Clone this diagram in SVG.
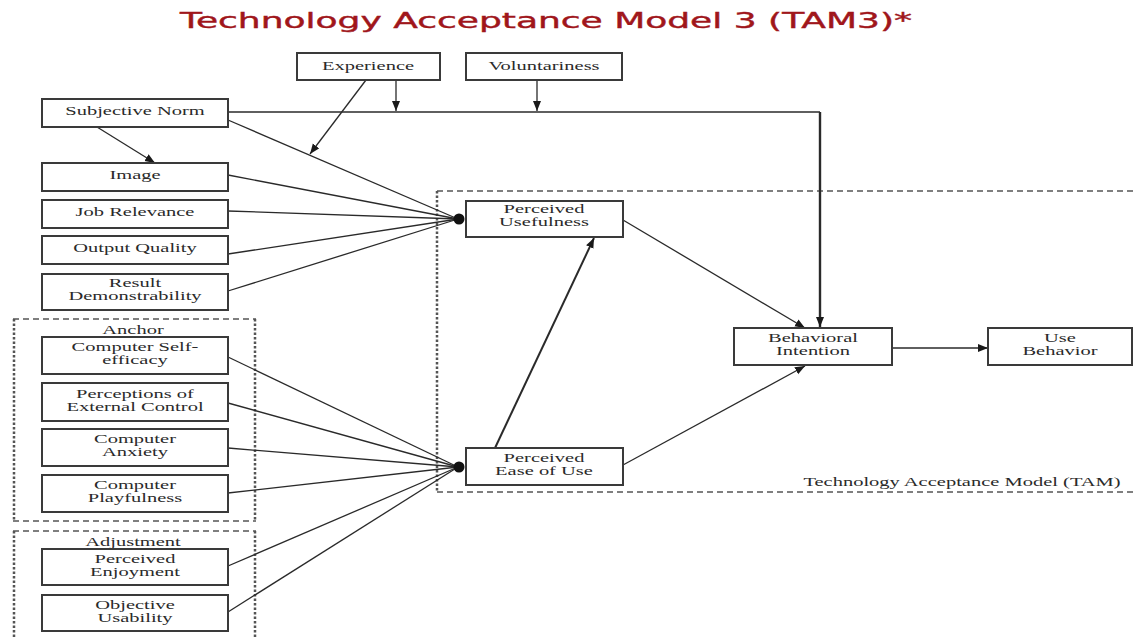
<svg xmlns="http://www.w3.org/2000/svg" width="1136" height="639" viewBox="0 0 1136 639">
<defs>
<marker id="ah" markerUnits="userSpaceOnUse" markerWidth="11" markerHeight="9" refX="10" refY="4" orient="auto">
<path d="M0,0 L10,4 L0,8 z" fill="#1a1a1a"/>
</marker>
<style>
.box{fill:#fff;stroke:#3a3a3a;stroke-width:2}
.t{font-family:"Liberation Serif","Times New Roman",serif;font-size:12.5px;fill:#2a2a2a;text-anchor:middle}
.ln{fill:none;stroke:#2a2a2a;stroke-width:1.3}
.arr{fill:none;stroke:#2a2a2a;stroke-width:1.3;marker-end:url(#ah)}
.dash{fill:none;stroke:#555;stroke-width:1.5;stroke-dasharray:6 4}
.dot{fill:none;stroke:#555;stroke-width:2.5;stroke-dasharray:2.5 2}
</style>
</defs>
<rect width="1136" height="639" fill="#fff"/>
<text x="180" y="28" font-family="DejaVu Sans, Verdana, sans-serif" font-size="21" fill="#A0161B" stroke="#A0161B" stroke-width="0.4" textLength="732" lengthAdjust="spacingAndGlyphs">Technology Acceptance Model 3 (TAM3)*</text>

<g id="groups">
<line class="dash" x1="437" y1="191" x2="1136" y2="191"/>
<line class="dash" x1="437" y1="492" x2="1136" y2="492"/>
<line class="dot" x1="437" y1="191" x2="437" y2="492"/>
<text class="t" transform="translate(962,486) scale(1.64,1)">Technology Acceptance Model (TAM)</text>
<line class="dash" x1="13" y1="319" x2="256" y2="319"/>
<line class="dash" x1="13" y1="521" x2="256" y2="521"/>
<line class="dot" x1="14" y1="319" x2="14" y2="521"/>
<line class="dot" x1="255" y1="319" x2="255" y2="521"/>
<text class="t" transform="translate(133,334) scale(1.64,1)">Anchor</text>
<line class="dash" x1="13" y1="531" x2="256" y2="531"/>
<line class="dot" x1="14" y1="531" x2="14" y2="639"/>
<line class="dot" x1="255" y1="531" x2="255" y2="639"/>
<text class="t" transform="translate(133,546) scale(1.64,1)">Adjustment</text>
</g>

<g id="connectors">
<path class="ln" d="M228,112 H820"/>
<line x1="820" y1="112" x2="820" y2="327" stroke="#2a2a2a" stroke-width="2.4" marker-end="url(#ah)"/>
<line class="arr" x1="396" y1="80" x2="396" y2="111"/>
<line class="arr" x1="537" y1="80" x2="537" y2="111"/>
<line class="arr" x1="366" y1="80" x2="310" y2="154"/>
<line class="arr" x1="97" y1="127" x2="155" y2="163"/>
<line class="ln" x1="228" y1="120" x2="458" y2="219"/>
<line class="ln" x1="228" y1="175" x2="458" y2="219"/>
<line class="ln" x1="228" y1="211" x2="458" y2="219"/>
<line class="ln" x1="228" y1="254" x2="458" y2="219"/>
<line class="ln" x1="228" y1="291" x2="458" y2="219"/>
<line class="ln" x1="228" y1="357" x2="458" y2="467"/>
<line class="ln" x1="228" y1="403" x2="458" y2="467"/>
<line class="ln" x1="228" y1="448" x2="458" y2="467"/>
<line class="ln" x1="228" y1="493" x2="458" y2="467"/>
<line class="ln" x1="228" y1="566" x2="458" y2="467"/>
<line class="ln" x1="228" y1="612" x2="458" y2="467"/>
<circle cx="459" cy="219" r="5.5" fill="#111"/>
<circle cx="459" cy="467" r="5.5" fill="#111"/>
<line x1="495" y1="448" x2="594" y2="238" stroke="#2a2a2a" stroke-width="2" marker-end="url(#ah)"/>
<line class="arr" x1="623" y1="220" x2="805" y2="328"/>
<line class="arr" x1="623" y1="465" x2="805" y2="366"/>
<line class="arr" x1="892" y1="348" x2="988" y2="348"/>
</g>

<g id="experience"><rect class="box" x="297" y="53" width="143" height="27"/><text class="t" transform="translate(368,70) scale(1.64,1)">Experience</text></g>
<g id="voluntariness"><rect class="box" x="466" y="53" width="156" height="27"/><text class="t" transform="translate(544,70) scale(1.64,1)">Voluntariness</text></g>
<g id="subjective-norm"><rect class="box" x="42" y="99" width="186" height="28"/><text class="t" transform="translate(135,115) scale(1.64,1)">Subjective Norm</text></g>
<g id="image"><rect class="box" x="42" y="163" width="186" height="28"/><text class="t" transform="translate(135,179) scale(1.64,1)">Image</text></g>
<g id="job-relevance"><rect class="box" x="42" y="200" width="186" height="28"/><text class="t" transform="translate(135,216) scale(1.64,1)">Job Relevance</text></g>
<g id="output-quality"><rect class="box" x="42" y="236" width="186" height="28"/><text class="t" transform="translate(135,252) scale(1.64,1)">Output Quality</text></g>
<g id="result-demonstrability"><rect class="box" x="42" y="274" width="186" height="36"/><text class="t" transform="translate(135,287) scale(1.64,1)">Result</text><text class="t" transform="translate(135,300) scale(1.64,1)">Demonstrability</text></g>
<g id="computer-self-efficacy"><rect class="box" x="42" y="337" width="186" height="37"/><text class="t" transform="translate(135,351) scale(1.64,1)">Computer Self-</text><text class="t" transform="translate(135,364) scale(1.64,1)">efficacy</text></g>
<g id="perceptions-external-control"><rect class="box" x="42" y="383" width="186" height="38"/><text class="t" transform="translate(135,398) scale(1.64,1)">Perceptions of</text><text class="t" transform="translate(135,411) scale(1.64,1)">External Control</text></g>
<g id="computer-anxiety"><rect class="box" x="42" y="429" width="186" height="37"/><text class="t" transform="translate(135,443) scale(1.64,1)">Computer</text><text class="t" transform="translate(135,456) scale(1.64,1)">Anxiety</text></g>
<g id="computer-playfulness"><rect class="box" x="42" y="475" width="186" height="37"/><text class="t" transform="translate(135,489) scale(1.64,1)">Computer</text><text class="t" transform="translate(135,502) scale(1.64,1)">Playfulness</text></g>
<g id="perceived-enjoyment"><rect class="box" x="42" y="549" width="186" height="36"/><text class="t" transform="translate(135,563) scale(1.64,1)">Perceived</text><text class="t" transform="translate(135,576) scale(1.64,1)">Enjoyment</text></g>
<g id="objective-usability"><rect class="box" x="42" y="595" width="186" height="36"/><text class="t" transform="translate(135,609) scale(1.64,1)">Objective</text><text class="t" transform="translate(135,622) scale(1.64,1)">Usability</text></g>
<g id="perceived-usefulness"><rect class="box" x="466" y="201" width="157" height="36"/><text class="t" transform="translate(544,213) scale(1.64,1)">Perceived</text><text class="t" transform="translate(544,226) scale(1.64,1)">Usefulness</text></g>
<g id="perceived-ease-of-use"><rect class="box" x="466" y="448" width="157" height="37"/><text class="t" transform="translate(544,462) scale(1.64,1)">Perceived</text><text class="t" transform="translate(544,475) scale(1.64,1)">Ease of Use</text></g>
<g id="behavioral-intention"><rect class="box" x="734" y="328" width="158" height="37"/><text class="t" transform="translate(813,342) scale(1.64,1)">Behavioral</text><text class="t" transform="translate(813,355) scale(1.64,1)">Intention</text></g>
<g id="use-behavior"><rect class="box" x="988" y="328" width="144" height="37"/><text class="t" transform="translate(1060,342) scale(1.64,1)">Use</text><text class="t" transform="translate(1060,355) scale(1.64,1)">Behavior</text></g>
</svg>
